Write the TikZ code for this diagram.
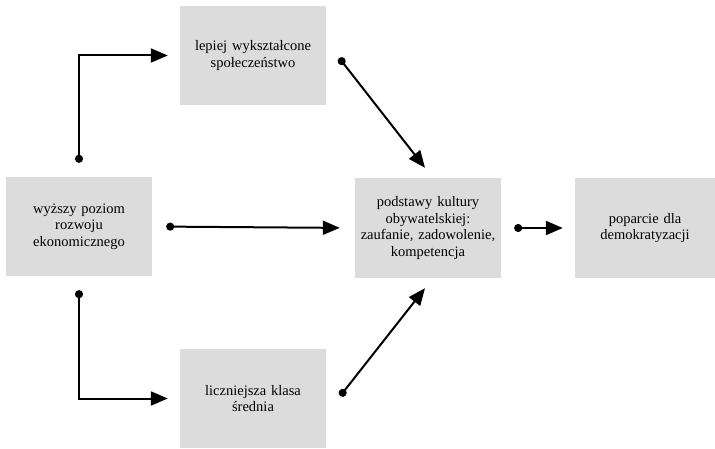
\documentclass[tikz,border=0pt]{standalone}
\usepackage{fontspec}
\setmainfont{Liberation Serif}
\usetikzlibrary{arrows.meta,calc}
\definecolor{boxgray}{HTML}{DCDCDC}
\tikzset{
  box/.style={fill=boxgray,draw=none,minimum width=146pt,minimum height=99pt,
    align=center,font=\fontsize{14.5}{16.5}\selectfont,text width=144pt,inner sep=1pt},
  conn/.style={line width=2pt,{Circle[length=8pt]}-{Triangle[length=17pt,width=14pt]}}
}
\begin{document}
\begin{tikzpicture}[x=1pt,y=-1pt]
\useasboundingbox (0,0) rectangle (715,449);
\node[box] (T) at (253,55.5) {lepiej wykształcone\\społeczeństwo};
\node[box] (L) at (79,226.5) {wyższy poziom\\rozwoju\\ekonomicznego};
\node[box] (C) at (428,228) {podstawy kultury\\obywatelskiej:\\zaufanie, zadowolenie,\\kompetencja};
\node[box,minimum width=140pt,text width=138pt] (R) at (645,228) {poparcie dla\\demokratyzacji};
\node[box] (B) at (253,398.5) {liczniejsza klasa\\średnia};
\draw[conn,shorten <=14pt,shorten >=12pt] (L.north) |- (T.west);
\draw[conn,shorten <=14pt,shorten >=12pt] (L.south) |- (B.west);
\draw[conn,shorten <=14pt,shorten >=15pt] (L.east) -- (C.west);
\draw[conn] ($(T.east)+(13,2.5)$) -- ($(C.north)+(-3,-10.5)$);
\draw[conn] ($(B.east)+(14,-2.5)$) -- ($(C.south)+(-3,10.5)$);
\draw[conn,shorten <=13pt,shorten >=12pt] (C.east) -- (R.west);
\end{tikzpicture}
\end{document}
